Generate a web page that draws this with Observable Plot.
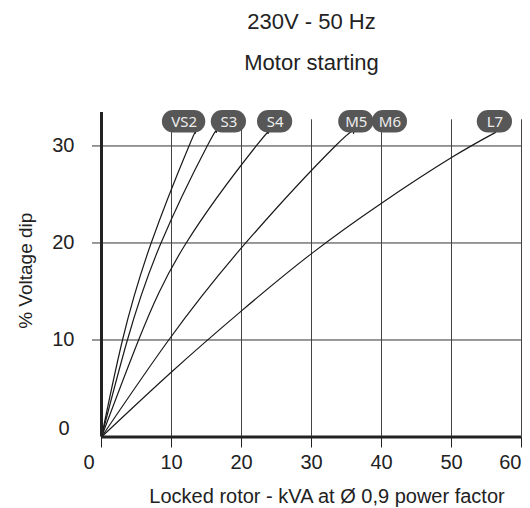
<!DOCTYPE html>
<html>
<head>
<meta charset="utf-8">
<script src="https://cdn.jsdelivr.net/npm/d3@7"></script>
<script src="https://cdn.jsdelivr.net/npm/@observablehq/plot@0.6"></script>
<style>
  html, body { margin: 0; padding: 0; background: #fff; }
</style>
</head>
<body>
<div id="chart"></div>
<script>
// ---- Text ----
const titleText = "230V - 50 Hz";
const subtitleText = "Motor starting";
const xLabelText = "Locked rotor - kVA at Ø 0,9 power factor";
const yLabelText = "% Voltage dip";

// ---- Ticks ----
const xTicks = [0, 10, 20, 30, 40, 50, 60];
const yTicks = [0, 10, 20, 30];

// ---- Curves: locked-rotor kVA (x) vs % voltage dip (y) ----
const vs2Kva = [0, 3.0, 7.1, 12.5, 13.4];
const vs2Dip = [0, 10, 20, 30, 31.3];
const s3Kva = [0, 3.7, 8.5, 15.1, 16.4];
const s3Dip = [0, 10, 20, 30, 31.4];
const s4Kva = [0, 5.3, 12.1, 22.1, 23.8];
const s4Dip = [0, 10, 20, 30, 31.3];
const m5Kva = [0, 9.6, 20.6, 33.4, 36.0];
const m5Dip = [0, 10, 20, 30, 31.3];
const l7Kva = [0, 10, 20, 30, 40, 50, 56.3];
const l7Dip = [0, 6.7, 13.0, 18.9, 24.1, 28.8, 31.4];

// ---- Curve labels (pills) ----
const labelNames = ["VS2", "S3", "S4", "M5", "M6", "L7"];
const labelKva = [11.8, 18.2, 24.8, 36.4, 41.2, 56.2];
const labelDip = 32.5;

// ---- Build tables ----
const curveDefs = [
  ["VS2", vs2Kva, vs2Dip],
  ["S3", s3Kva, s3Dip],
  ["S4", s4Kva, s4Dip],
  ["M5", m5Kva, m5Dip],
  ["L7", l7Kva, l7Dip]
];
const rows = curveDefs.flatMap(([name, xs, ys]) => xs.map((x, i) => ({series: name, kva: x, dip: ys[i]})));
const pills = labelNames.map((name, i) => ({name, kva: labelKva[i]}));
const widePills = pills.filter(d => d.name.length > 2);
const narrowPills = pills.filter(d => d.name.length <= 2);

const font = "'Liberation Sans', Arial, Helvetica, sans-serif";
const ink = "#222";
const mid = {lineAnchor: "middle"};

const chart = Plot.plot({
  width: 530,
  height: 508,
  marginLeft: 101,
  marginRight: 9,
  marginTop: 112,
  marginBottom: 71.5,
  style: {fontFamily: font, background: "#fff", overflow: "visible"},
  x: {domain: [0, 60], axis: null},
  y: {domain: [0, 33.45], axis: null},
  marks: [
    // grid
    Plot.ruleY(yTicks.filter(d => d > 0), {stroke: "#333", strokeWidth: 1}),
    Plot.ruleX(xTicks.filter(d => d > 0), {y1: () => 0, y2: () => 32.7, stroke: "#444", strokeWidth: 1}),
    // ticks
    Plot.axisY({ticks: yTicks.filter(d => d > 0), tickSize: 9, tickFormat: () => "", label: null, stroke: "#333"}),
    Plot.axisX({ticks: xTicks, tickSize: 11, tickFormat: () => "", label: null, stroke: "#222"}),
    // curves
    Plot.line(rows, {x: "kva", y: "dip", z: "series", curve: "natural", stroke: "#1a1a1a", strokeWidth: 1.2}),
    // thick axis lines
    Plot.ruleX([0], {stroke: ink, strokeWidth: 3}),
    Plot.ruleY([0], {stroke: ink, strokeWidth: 3}),
    // x tick labels
    Plot.text(xTicks.filter(d => d > 0 && d < 60), {...mid, x: d => d, frameAnchor: "bottom", dy: 26, textAnchor: "middle", text: d => String(d), fontSize: 20, fill: ink}),
    Plot.text(xTicks.filter(d => d === 0), {...mid, x: d => d, frameAnchor: "bottom", dy: 26, dx: -7, textAnchor: "end", text: d => String(d), fontSize: 20, fill: ink}),
    Plot.text(xTicks.filter(d => d === 60), {...mid, x: d => d, frameAnchor: "bottom", dy: 26, textAnchor: "end", text: d => String(d), fontSize: 20, fill: ink}),
    // y tick labels
    Plot.text(yTicks.filter(d => d > 0), {...mid, y: d => d, frameAnchor: "left", dx: -27, textAnchor: "end", text: d => String(d), fontSize: 20, fill: ink}),
    Plot.text(yTicks.filter(d => d === 0), {...mid, y: d => d, frameAnchor: "left", dx: -32, dy: -8, textAnchor: "end", text: d => String(d), fontSize: 20, fill: ink}),
    // axis labels
    Plot.text([xLabelText], {...mid, frameAnchor: "bottom", textAnchor: "middle", dx: 15.5, dy: 60, text: d => d, fontSize: 20, fill: ink}),
    Plot.text([yLabelText], {...mid, frameAnchor: "left", textAnchor: "middle", dx: -76, dy: -4, rotate: -90, text: d => d, fontSize: 19, fill: ink}),
    // titles
    Plot.text([titleText], {...mid, frameAnchor: "top", textAnchor: "middle", dy: -91, text: d => d, fontSize: 22, fill: ink}),
    Plot.text([subtitleText], {...mid, frameAnchor: "top", textAnchor: "middle", dy: -49.5, text: d => d, fontSize: 22, fill: ink}),
    // pills
    Plot.rect(widePills, {x1: "kva", x2: "kva", y1: () => labelDip, y2: () => labelDip,
      insetLeft: -21.7, insetRight: -21.7, insetTop: -11.3, insetBottom: -11.3, rx: 11.3, fill: "#575757"}),
    Plot.rect(narrowPills, {x1: "kva", x2: "kva", y1: () => labelDip, y2: () => labelDip,
      insetLeft: -17.6, insetRight: -17.6, insetTop: -11.3, insetBottom: -11.3, rx: 11.3, fill: "#575757"}),
    Plot.text(pills, {x: "kva", y: () => labelDip, text: "name", fill: "#ededed", fontSize: 15, fontFamily: "'Noto Sans', 'Open Sans', sans-serif"})
  ]
});
document.getElementById("chart").appendChild(chart);
</script>
</body>
</html>
